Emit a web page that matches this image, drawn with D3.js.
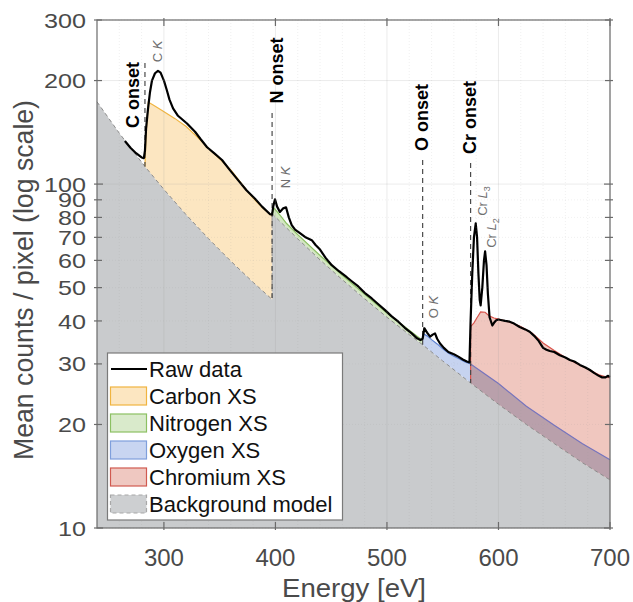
<!DOCTYPE html>
<html><head><meta charset="utf-8">
<script src="https://cdn.jsdelivr.net/npm/d3@7"></script>
<style>body{margin:0;background:#fff}svg{display:block}text{font-family:"Liberation Sans",Arial,sans-serif}</style>
</head><body><svg id="c" width="633" height="602"></svg>
<script>
const xTicks=[300,400,500,600,700];
const yTicks=[10,20,30,40,50,60,70,80,90,100,200,300];
const xMinorGrid=[260,280,320,340,360,380,420,440,460,480,520,540,560,580,620,640,660,680];
// background model (C edge, then refit after N edge)
const bgCE=[240,260,283,300,320,340,360,380,397];
const bgCV=[173.5,140.6,112.5,96.5,81.4,69.4,59.7,51.8,46.2];
const bgNE=[397,420,440,460,480,500,520,532,550,575,600,625,650,675,700];
const bgNV=[82,69.3,60.2,52.7,46.4,41.0,36.5,34.1,30.6,26.4,22.9,20.0,17.6,15.5,13.8];
// cross sections (top of each stacked region)
const carbonE=[283,284,286,290,298,310,320,330,340,350,360,370,380,390,397];
const carbonV=[112.5,140,173,170,164,155,147,137,127,118.5,110,100,91,84.5,81];
const nitrogenE=[397,399,405,410,420,440,460,480,500,520,532];
const nitrogenV=[82,85,80.5,76.8,71.3,62.0,54.3,47.8,42.2,37.6,35.1];
const oxygenE=[532,536,540,545,550,555,560,565,570,575,600,625,650,675,700];
const oxygenV=[36.8,36.2,35.3,34.3,33.2,32.3,31.6,31.0,30.4,30.0,26.3,22.6,19.9,17.6,15.8];
const chromiumE=[575,578,581,584,588,592,596,600,610,620,630,640,650,660,670,680,690,700];
const chromiumV=[38.5,39.5,41,42.5,42.4,41.3,40.8,40.5,39.7,38.5,36.9,34.5,32.8,31.3,30.1,29.0,27.9,27.3];
// raw spectrum
const rawE=[265,270,275,280,282,283,284,285.7,287.5,289.3,292,294.7,297,300,302.5,305,308.2,312.6,320.7,327.9,333,338.7,345,352.1,359,366.5,374,381.7,388,395.2,397,398,399.6,401.5,404,407,409.5,412,414.6,417.6,422,426.5,432.6,436,440,445,450.5,457,464,469,474.3,480,486.4,492,498.3,504,510.2,516,522.2,527,530,532,533.5,536,538.7,541,543.1,545,547.6,551,555.1,560,564,568,571.6,574,575,576.5,578,579.6,580.8,582,583.2,584,585.5,587,588,589.3,590.5,592,594.5,596,598,600,603,606,610,614,619,624,628,632,636,640,643,646,650,655,660,664,668,673,678,682,686,690,693,696,698,700];
const rawV=[133.5,127.5,123,119.5,119,125,145,165,185,200,210,213.5,211,200,188,176,166,158,150,142,135,128,123,117.5,110,102.7,96,90.6,86,81.7,81.5,86,90.3,86,83,85,85.6,80,76,73.7,72,70.2,68.7,66.5,64.5,61,58.1,55.8,53.6,52,50.4,48.3,46.5,44.8,43.0,41.3,39.8,38.2,36.8,35.6,35.2,35.5,38.1,37,36.0,36.5,36.8,35.5,34.4,33.4,32.5,32,31.5,30.9,30.5,30.3,40,55,70,76.9,70,55,46,44.4,50,60,63.7,58,48,41,38.8,39.5,40.2,40.4,40.2,40.0,39.8,39.3,38.4,37.8,37.2,36.2,35.0,33.4,33.0,32.7,32.5,31.8,31.3,30.8,30.5,29.8,29.3,28.8,28.2,27.7,27.4,27.4,27.7,27.5];
const onsetNames=["C onset","N onset","O onset","Cr onset"];
const onsetE=[283,397,532,575];
const legendLabels=["Raw data","Carbon XS","Nitrogen XS","Oxygen XS","Chromium XS","Background model"];

const svg=d3.select("#c");
const x=d3.scaleLinear().domain([240,700]).range([97,610]);
const y=d3.scaleLog().domain([10,300]).range([528,20]);
const zip=(E,V)=>E.map((e,i)=>[e,V[i]]);
function interp(E,V,e){
  if(e<=E[0])return V[0]; if(e>=E[E.length-1])return V[V.length-1];
  let i=d3.bisectRight(E,e)-1; if(i>=E.length-1)i=E.length-2;
  const t=(e-E[i])/(E[i+1]-E[i]);
  return Math.exp(Math.log(V[i])*(1-t)+Math.log(V[i+1])*t);
}
function bandPts(tE,tV,bE,bV,lo,hi){
  lo=lo??tE[0]; hi=hi??tE[tE.length-1];
  const es=Array.from(new Set(tE.concat(bE).filter(e=>e>=lo&&e<=hi))).sort((a,b)=>a-b);
  return es.map(e=>({e,top:interp(tE,tV,e),bot:interp(bE,bV,e)}));
}
const area=d3.area().x(d=>x(d.e)).y0(d=>y(d.bot)).y1(d=>y(d.top));
const line=d3.line().x(d=>x(d[0])).y(d=>y(d[1]));

const plot=svg.append("g");
const bgAll=zip(bgCE,bgCV).concat(zip(bgNE,bgNV));
plot.append("path").datum(bgAll)
  .attr("d",d3.area().x(d=>x(d[0])).y0(y(10)).y1(d=>y(d[1])))
  .attr("fill","#c9cbcd");
plot.append("path").datum(bandPts(carbonE,carbonV,bgCE,bgCV)).attr("d",area).attr("fill","#fce6c1");
plot.append("path").datum(bandPts(nitrogenE,nitrogenV,bgNE,bgNV)).attr("d",area).attr("fill","#d3e7c1");
plot.append("path").datum(bandPts(oxygenE,oxygenV,bgNE,bgNV,532,575)).attr("d",area).attr("fill","#c6d3f0");
plot.append("path").datum(bandPts(chromiumE,chromiumV,bgNE,bgNV)).attr("d",area).attr("fill","#f0c7bf");
plot.append("path").datum(bandPts(oxygenE,oxygenV,bgNE,bgNV,575,700)).attr("d",area).attr("fill","#b9a0ab");

// grid (faint)
const grid=svg.append("g");
xMinorGrid.forEach(v=>grid.append("line").attr("x1",x(v)).attr("x2",x(v)).attr("y1",y(300)).attr("y2",y(10))
  .attr("stroke","#9a9a9a").attr("stroke-opacity",0.15).attr("stroke-dasharray","1,2"));
xTicks.forEach(v=>grid.append("line").attr("x1",x(v)).attr("x2",x(v)).attr("y1",y(300)).attr("y2",y(10))
  .attr("stroke","#9a9a9a").attr("stroke-opacity",0.2));
yTicks.forEach(v=>grid.append("line").attr("x1",x(240)).attr("x2",x(700)).attr("y1",y(v)).attr("y2",y(v))
  .attr("stroke","#9a9a9a").attr("stroke-opacity",v===100||v===200?0.2:0.14).attr("stroke-dasharray",v===100||v===200?null:"1,2"));

// edge lines
plot.append("path").datum(zip(carbonE,carbonV)).attr("d",line).attr("fill","none").attr("stroke","#f0b440").attr("stroke-width",1.2);
plot.append("path").datum(zip(nitrogenE,nitrogenV)).attr("d",line).attr("fill","none").attr("stroke","#8cc063").attr("stroke-width",1.2);
plot.append("path").datum(zip(oxygenE,oxygenV).filter(d=>d[0]<=575)).attr("d",line).attr("fill","none").attr("stroke","#5b80d2").attr("stroke-width",1.2);
plot.append("path").datum(zip(oxygenE,oxygenV).filter(d=>d[0]>=575)).attr("d",line).attr("fill","none").attr("stroke","#7674bd").attr("stroke-width",1.2);
plot.append("path").datum([[575,interp(bgNE,bgNV,575)]].concat(zip(chromiumE,chromiumV))).attr("d",line).attr("fill","none").attr("stroke","#d9544c").attr("stroke-width",1.2);
plot.append("path").datum(bgAll).attr("d",line).attr("fill","none").attr("stroke","#8c8c8c").attr("stroke-width",1).attr("stroke-dasharray","4,3");

// onset dashed lines
const onsetTop=[63,113,160,163];
const onsetBottom=[interp(bgCE,bgCV,283),interp(bgCE,bgCV,397),interp(bgNE,bgNV,532),interp(bgNE,bgNV,575)];
onsetE.forEach((e,i)=>{
  plot.append("line").attr("x1",x(e)).attr("x2",x(e)).attr("y1",onsetTop[i]).attr("y2",y(onsetBottom[i]))
   .attr("stroke","#4a4a4a").attr("stroke-width",1.2).attr("stroke-dasharray","5,4");
});
plot.append("path").datum(zip(rawE,rawV)).attr("d",line).attr("fill","none").attr("stroke","#000").attr("stroke-width",2.2).attr("stroke-linejoin","round");

// onset labels
const labPos=[[133,95],[277,70.5],[421.5,117.5],[470,117.5]];
onsetNames.forEach((t,i)=>{
  svg.append("text").attr("transform",`translate(${labPos[i][0]},${labPos[i][1]}) rotate(-90)`)
   .attr("text-anchor","middle").attr("dy","0.35em").attr("font-size",18).attr("font-weight","bold").attr("fill","#000").text(t);
});
function peakLabel(px,py,el,ln,sub){
  const t=svg.append("text").attr("transform",`translate(${px},${py}) rotate(-90)`)
   .attr("text-anchor","middle").attr("dy","0.35em").attr("font-size",13).attr("fill","#6e6e6e");
  t.append("tspan").text(el+" ");
  t.append("tspan").attr("font-style","italic").text(ln);
  if(sub){t.append("tspan").attr("font-size",9).attr("dy","3").text(sub);}
}
peakLabel(157,51.5,"C","K");
peakLabel(285,177.5,"N","K");
peakLabel(433,307,"O","K");
peakLabel(482.5,201,"Cr","L","3");
peakLabel(491.5,233,"Cr","L","2");

// axes box
const ax=svg.append("g").attr("stroke","#6b6b6b").attr("stroke-width",1.2);
ax.append("rect").attr("x",x(240)).attr("y",y(300)).attr("width",x(700)-x(240)).attr("height",y(10)-y(300)).attr("fill","none");
xTicks.forEach(v=>{
  ax.append("line").attr("x1",x(v)).attr("x2",x(v)).attr("y1",y(10)+2).attr("y2",y(10)-6);
  ax.append("line").attr("x1",x(v)).attr("x2",x(v)).attr("y1",y(300)-2).attr("y2",y(300)+6);
});
yTicks.forEach(v=>{
  const len=(v===10||v===100)?6:5;
  ax.append("line").attr("x1",x(240)-3).attr("x2",x(240)+len).attr("y1",y(v)).attr("y2",y(v));
  ax.append("line").attr("x1",x(700)+3).attr("x2",x(700)-len).attr("y1",y(v)).attr("y2",y(v));
});
const tl=svg.append("g").attr("fill","#4a4a4a");
xTicks.forEach(v=>tl.append("text").attr("x",x(v)).attr("y",566).attr("text-anchor","middle").attr("font-size",24).text(v));
yTicks.forEach(v=>tl.append("text").attr("x",86).attr("y",y(v)).attr("dy","0.36em").attr("text-anchor","end")
  .attr("font-size",21).attr("textLength",String(v).length*14).attr("lengthAdjust","spacingAndGlyphs").text(v));
svg.append("text").attr("x",354).attr("y",597).attr("text-anchor","middle").attr("font-size",26.5).attr("fill","#4a4a4a")
  .attr("textLength",144).attr("lengthAdjust","spacingAndGlyphs").text("Energy [eV]");
svg.append("text").attr("transform","translate(33,280) rotate(-90)").attr("text-anchor","middle").attr("font-size",27).attr("fill","#4a4a4a")
  .attr("textLength",360).attr("lengthAdjust","spacingAndGlyphs").text("Mean counts / pixel (log scale)");

// legend
const lg=svg.append("g");
lg.append("rect").attr("x",107.5).attr("y",353).attr("width",235).attr("height",167).attr("fill","#fff").attr("stroke","#7a7a7a").attr("stroke-width",1.2);
const swFill=[null,"#fce6c1","#d9eacb","#c8d5f1","#efc8c1","#cdcfd1"];
const swStroke=[null,"#f0b440","#8cc063","#7f9fdc","#d05a50","#a8a8a8"];
legendLabels.forEach((t,i)=>{
  const cy=369+i*27;
  if(i===0){
    lg.append("line").attr("x1",111).attr("x2",147).attr("y1",cy).attr("y2",cy).attr("stroke","#000").attr("stroke-width",2.2);
  } else {
    lg.append("rect").attr("x",110.5).attr("y",cy-9).attr("width",36).attr("height",18).attr("fill",swFill[i])
      .attr("stroke",swStroke[i]).attr("stroke-width",1.2).attr("stroke-dasharray",i===5?"4,3":null);
  }
  lg.append("text").attr("x",149).attr("y",cy).attr("dy","0.36em").attr("font-size",22).attr("fill","#111").text(t);
});
</script></body></html>
